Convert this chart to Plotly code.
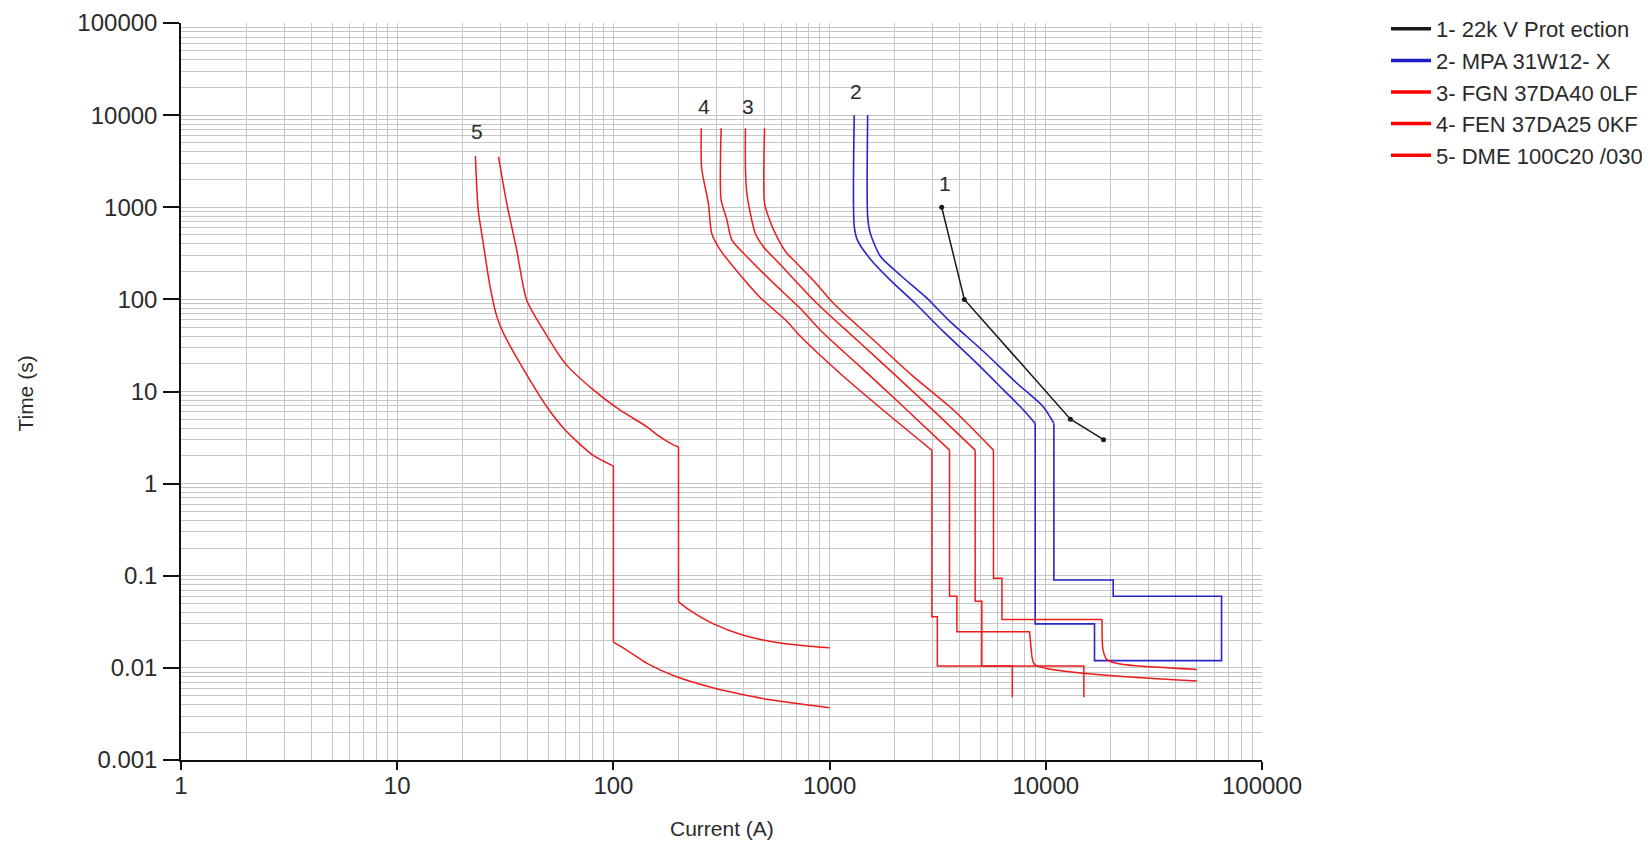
import math
import plotly.graph_objects as go

# ---------------- data ----------------
X_TICKS = [1, 10, 100, 1000, 10000, 100000]
X_TICK_LABELS = ["1", "10", "100", "1000", "10000", "100000"]
Y_TICKS = [0.001, 0.01, 0.1, 1, 10, 100, 1000, 10000, 100000]
Y_TICK_LABELS = ["0.001", "0.01", "0.1", "1", "10", "100", "1000", "10000", "100000"]

SERIES_NAMES = ["1- 22k V Prot ection", "2- MPA 31W12- X", "3- FGN 37DA40 0LF",
                "4- FEN 37DA25 0KF", "5- DME 100C20 /030"]

# 1 - 22kV protection (points with markers)
I1 = [3300, 4200, 13000, 18500]
T1 = [1000, 100, 5, 3]

# 2 - MPA (blue): min curve down, step region, max curve back up
I2 = [1300, 1300, 1345, 1541, 1974, 2535, 3364, 4713, 6370, 7883, 8930,
      8930, 16800, 16800, 65000, 65000, 20500, 20500, 10900, 10900,
      9750, 7350, 5152, 3613, 2818, 2119, 1714, 1541, 1500, 1500]
T2 = [10000, 620, 440, 275, 150, 87, 44.6, 21.1, 10.4, 6.3, 4.5,
      0.03, 0.03, 0.012, 0.012, 0.06, 0.06, 0.09, 0.09, 4.5,
      6.8, 12.3, 27.2, 57.3, 103, 184, 296, 526, 790, 10000]

# 3 - FGN (red): two lines
I3a = [408, 408, 414, 453, 494, 590, 873, 1337, 2047, 3246, 4713, 4713, 5060, 5060, 7000, 7000]
T3a = [7200, 2750, 1422, 523, 373, 240, 90.8, 36.2, 14.5, 5.3, 2.31, 0.053, 0.053, 0.0105, 0.0105, 0.0048]
I3b = [500, 500, 521, 570, 634, 681, 842, 1042, 1596, 2445, 3741, 5728, 5728, 6270, 6270,
       18200, 18400, 19200, 22100, 50000]
T3b = [7200, 1107, 790, 480, 317, 268, 160, 90.8, 36.2, 14.5, 6.3, 2.31, 0.094, 0.094, 0.0336,
       0.0336, 0.0156, 0.0123, 0.011, 0.0096]

# 4 - FEN (red): two lines
I4a = [255, 256, 275, 285, 312, 365, 477, 634, 731, 1119, 1841, 2972, 2972, 3150, 3150, 15000, 15000]
T4a = [7200, 2650, 1100, 520, 344, 215, 105, 58, 40, 15.7, 5.8, 2.3, 0.036, 0.036, 0.0105, 0.0105, 0.0048]
I4b = [315, 315, 335, 353, 429, 550, 731, 904, 1384, 2196, 3587, 3587, 3880, 3880, 8410, 8600,
       8930, 50000]
T4b = [7200, 1200, 730, 442, 268, 150, 80, 46.6, 18.6, 6.84, 2.31, 0.06, 0.06, 0.0246, 0.0246,
       0.014, 0.0108, 0.0072]

# 5 - DME (red): two lines
I5a = [23, 23.7, 25, 26.9, 28.9, 31, 37, 49.2, 60, 80, 100, 100, 115, 143, 196, 280, 372, 531, 1000]
T5a = [3600, 936, 407, 137, 65, 43, 20.2, 6.84, 3.8, 2.05, 1.55, 0.019, 0.0156, 0.0112, 0.008,
       0.0062, 0.0053, 0.0045, 0.0037]
I5b = [29.4, 32.1, 35.7, 39.7, 47.4, 59.8, 80.8, 107, 143, 164, 190, 200, 200, 226, 290, 399, 612, 1000]
T5b = [3550, 1107, 344, 98.6, 46.6, 20.2, 10.4, 6.3, 4.14, 3.23, 2.62, 2.5, 0.052, 0.042, 0.030,
       0.0226, 0.0184, 0.0165]

# curve number labels
LABEL_TEXT = ["1", "2", "3", "4", "5"]
LABEL_I = [3425, 1327, 421, 263, 23.4]
LABEL_T = [1824, 18000, 12400, 12400, 6670]

# ---------------- structure: (x, y, [(start, end, smooth?) ...]) ----------------
LINES = [
    ("2", I2, T2, [(0, 10, True), (10, 19, False), (19, 29, True)]),
    ("3", I3a, T3a, [(0, 10, True), (10, 15, False)]),
    ("3", I3b, T3b, [(0, 11, True), (11, 15, False), (15, 19, True)]),
    ("4", I4a, T4a, [(0, 11, True), (11, 16, False)]),
    ("4", I4b, T4b, [(0, 10, True), (10, 15, False), (15, 17, True)]),
    ("5", I5a, T5a, [(0, 10, True), (10, 11, False), (11, 18, True)]),
    ("5", I5b, T5b, [(0, 11, True), (11, 12, False), (12, 17, True)]),
]

# ---------------- style ----------------
BLACK = "#1a1a1a"
BLUE = "#2626cc"
RED = "#ec1c1c"
COLORS = {"2": BLUE, "3": RED, "4": RED, "5": RED}
GRID = "#c6c6c6"
FONT = "Liberation Sans, Arial, sans-serif"
TXT = "#2b2b2b"

W, H = 1650, 841
ML, MT = 173, 15          # page has an 8px body margin
PW, PH = 1081, 737
MR = W - ML - PW
MB = H - MT - PH

fig = go.Figure()

fig.add_trace(go.Scatter(x=I1, y=T1, mode="lines+markers", line=dict(color=BLACK, width=1.5),
                         marker=dict(size=5, color=BLACK), showlegend=False))

for key, xs, ys, parts in LINES:
    for a, b, smooth in parts:
        fig.add_trace(go.Scatter(
            x=xs[a:b + 1], y=ys[a:b + 1], mode="lines", showlegend=False,
            line=dict(color=COLORS[key], width=1.6 if key == "2" else 1.5,
                      shape="spline" if smooth else "linear", smoothing=0.7)))

# legend entries (thicker lines, as in the reference legend)
for name, col in zip(SERIES_NAMES, [BLACK, "#1e1ec8", "#ff0000", "#ff0000", "#ff0000"]):
    fig.add_trace(go.Scatter(x=[None], y=[None], mode="lines", name=name,
                             line=dict(color=col, width=3.5), showlegend=True))

for t, xi, yi in zip(LABEL_TEXT, LABEL_I, LABEL_T):
    fig.add_annotation(x=math.log10(xi), y=math.log10(yi), text=t, showarrow=False,
                       font=dict(family=FONT, size=21, color=TXT))

minor_vals = [m * 10 ** k for k in range(-3, 5) for m in range(2, 10)]

axis_common = dict(type="log", showgrid=True, gridcolor=GRID, gridwidth=1,
                   showline=True, linecolor="#111111", linewidth=1.5,
                   ticks="outside", tickcolor="#111111", tickwidth=1.5,
                   tickfont=dict(family=FONT, size=24, color=TXT), zeroline=False,
                   minor=dict(tickvals=minor_vals, showgrid=True, gridcolor=GRID, gridwidth=1,
                              ticks=""))

fig.update_xaxes(range=[0, 5], tickvals=X_TICKS, ticktext=X_TICK_LABELS, ticklen=8,
                 ticklabelstandoff=-5, **axis_common)
fig.update_yaxes(range=[-3, 5], tickvals=Y_TICKS, ticktext=Y_TICK_LABELS, ticklen=16,
                 ticklabelstandoff=1, **axis_common)

fig.add_annotation(xref="paper", yref="paper", x=0.5, y=-0.0923, xanchor="center",
                   yanchor="middle", text="Current (A)", showarrow=False,
                   font=dict(family=FONT, size=21, color=TXT))
fig.add_annotation(xref="paper", yref="paper", x=-0.1435, y=0.497, xanchor="center",
                   yanchor="middle", text="Time (s)", textangle=-90, showarrow=False,
                   font=dict(family=FONT, size=21, color=TXT))

fig.update_layout(
    width=W, height=H,
    margin=dict(l=ML, r=MR, t=MT, b=MB, autoexpand=False),
    paper_bgcolor="white", plot_bgcolor="white",
    showlegend=True,
    legend=dict(x=(1378 - ML) / PW, y=1 + MT / PH, xanchor="left", yanchor="top",
                font=dict(family=FONT, size=22, color=TXT),
                bgcolor="rgba(0,0,0,0)", itemwidth=40, tracegroupgap=0),
)

fig.write_html("out.html")
